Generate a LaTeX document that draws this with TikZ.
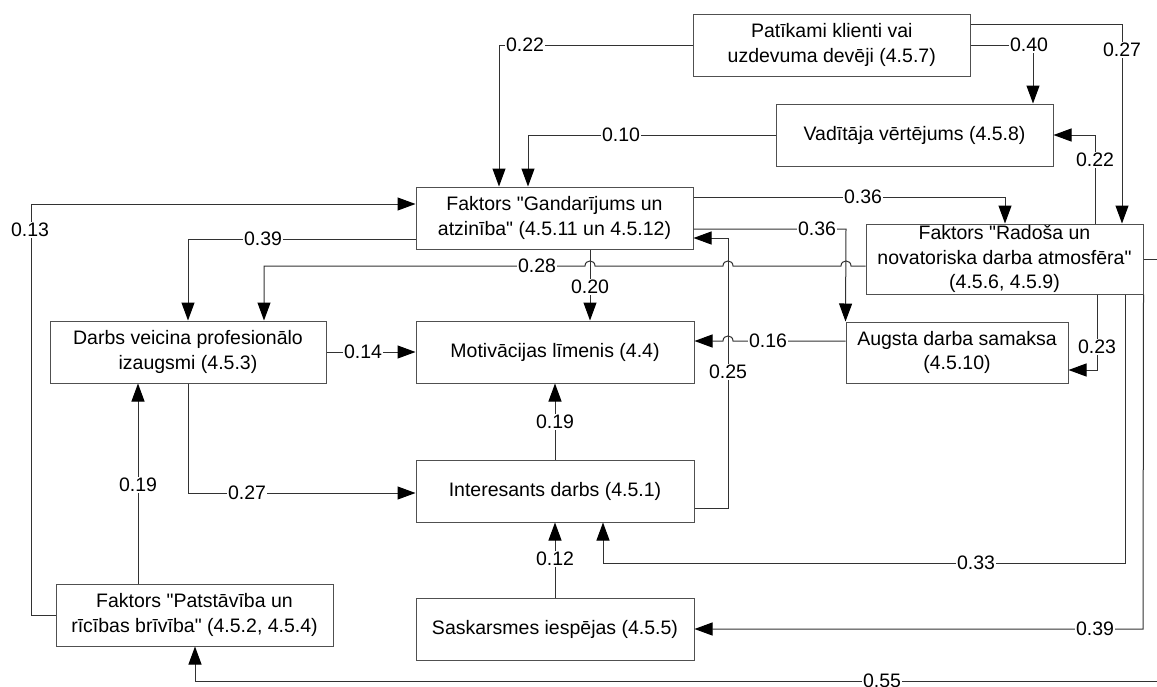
\documentclass[tikz,border=0pt]{standalone}
\usepackage{fontspec}
\setmainfont{Liberation Sans}
\usetikzlibrary{arrows.meta}
\definecolor{linecol}{RGB}{50,50,50}
\definecolor{boxline}{RGB}{80,80,80}
\newcommand{\qq}{\textquotedbl}
\begin{document}
\begin{tikzpicture}[x=1pt,y=-1pt,
  every node/.style={font=\fontsize{19.5}{24.5}\selectfont},
  box/.style={draw=boxline, line width=1pt, fill=white, minimum width=277pt,
    minimum height=62pt, inner sep=0pt, align=center},
  conn/.style={draw=linecol, line width=1pt,
    -{Triangle[length=18pt,width=13pt,color=black]}},
  lbl/.style={fill=white, inner sep=1.5pt}]
\useasboundingbox (0,0) rectangle (1157,686);

% factor boxes
\node[box, minimum width=276.5pt] (P) at (831.75,45) {Patīkami klienti vai\\uzdevuma devēji (4.5.7)};
\node[box] (V) at (914.5,135) {Vadītāja vērtējums (4.5.8)};
\node[box] (G) at (554.5,218) {Faktors \qq Gandarījums un\\atzinība\qq{} (4.5.11 un 4.5.12)};
\node[box, minimum height=70pt] (R) at (1004.5,259) {Faktors \qq Radoša un\\novatoriska darba atmosfēra\qq\\(4.5.6, 4.5.9)};
\node[box, minimum width=276pt] (D) at (188,352) {Darbs veicina profesionālo\\izaugsmi (4.5.3)};
\node[box, minimum width=278pt] (M) at (555,352) {Motivācijas līmenis (4.4)};
\node[box, minimum width=222pt, minimum height=61pt] (A) at (957,352.5) {Augsta darba samaksa\\(4.5.10)};
\node[box, minimum width=278pt] (I) at (555,491) {Interesants darbs (4.5.1)};
\node[box, minimum width=278pt] (S) at (555,629) {Saskarsmes iespējas (4.5.5)};
\node[box] (F) at (194.5,615) {Faktors \qq Patstāvība un\\rīcības brīvība\qq{} (4.5.2, 4.5.4)};

% connectors
\draw[conn] (P.west |- 0,45) -- (499,45) -- (G.north -| 499,0);
\draw[conn] (P.east |- 0,45) -- (1033,45) -- (V.north -| 1033,0);
\draw[conn] (P.east |- 0,24) -- (1122,24) -- (R.north -| 1122,0);
\draw[conn] (V.west) -- (528,135) -- (G.north -| 528,0);
\draw[conn] (R.north -| 1095,0) -- (1095,135) -- (V.east);
\draw[conn] (G.east |- 0,197) -- (1005,197) -- (R.north -| 1005,0);
\draw[conn] (G.east |- 0,229) -- (846,229) -- (A.north west);
\draw[conn] (F.west) -- (31,615) -- (31,204) -- (G.west |- 0,204);
\draw[conn] (G.west |- 0,239) -- (188,239) -- (D.north);
\draw[conn] (R.west |- 0,266) -- (851,266)
  .. controls (851,259.3) and (841,259.3) .. (841,266) -- (733,266)
  .. controls (733,259.3) and (723,259.3) .. (723,266) -- (595,266)
  .. controls (595,259.3) and (585,259.3) .. (585,266) -- (264,266)
  -- (D.north -| 264,0);
\draw[conn] (G.south -| 590,0) -- (M.north -| 590,0);
\draw[conn] (D.east) -- (M.west);
\draw[conn] (A.west |- 0,341) -- (733,341)
  .. controls (733,334.3) and (723,334.3) .. (723,341) -- (M.east |- 0,341);
\draw[conn] (R.south -| 1097,0) -- (1097,370) -- (A.east |- 0,370);
\draw[conn] (I.east |- 0,508) -- (728,508) -- (728,238) -- (G.east |- 0,238);
\draw[conn] (I.north) -- (M.south);
\draw[conn] (D.south) -- (188,493) -- (I.west |- 0,493);
\draw[conn] (F.north -| 138,0) -- (D.south -| 138,0);
\draw[conn] (S.north) -- (I.south);
\draw[conn] (R.south -| 1125,0) -- (1125,563) -- (603,563) -- (I.south -| 603,0);
\draw[conn] (R.south east) -- (1143,629) -- (S.east);
\draw[conn] (R.east |- 0,259) -- (1163,259) -- (1163,681) -- (195,681) -- (F.south -| 195,0);

% path coefficients
\node[lbl] (c1) at (525,45) {0.22};
\node[lbl] (c2) at (1029,45) {0.40};
\node[lbl] (c3) at (1122,50) {0.27};
\node[lbl] (c4) at (621,135) {0.10};
\node[lbl] (c5) at (1095,160) {0.22};
\node[lbl] (c6) at (863,197) {0.36};
\node[lbl] (c7) at (817,229) {0.36};
\node[lbl] (c8) at (30,230) {0.13};
\node[lbl] (c9) at (263,239) {0.39};
\node[lbl] (c10) at (537,266) {0.28};
\node[lbl] (c11) at (590,287) {0.20};
\node[lbl] (c12) at (363,352) {0.14};
\node[lbl] (c13) at (768,341) {0.16};
\node[lbl] (c14) at (1097,347) {0.23};
\node[lbl] (c15) at (728,372) {0.25};
\node[lbl] (c16) at (555,422) {0.19};
\node[lbl] (c17) at (247,493) {0.27};
\node[lbl] (c18) at (138,485) {0.19};
\node[lbl] (c19) at (555,559) {0.12};
\node[lbl] (c20) at (976,563) {0.33};
\node[lbl] (c21) at (1095,629) {0.39};
\node[lbl] (c22) at (882,681) {0.55};
\end{tikzpicture}
\end{document}
